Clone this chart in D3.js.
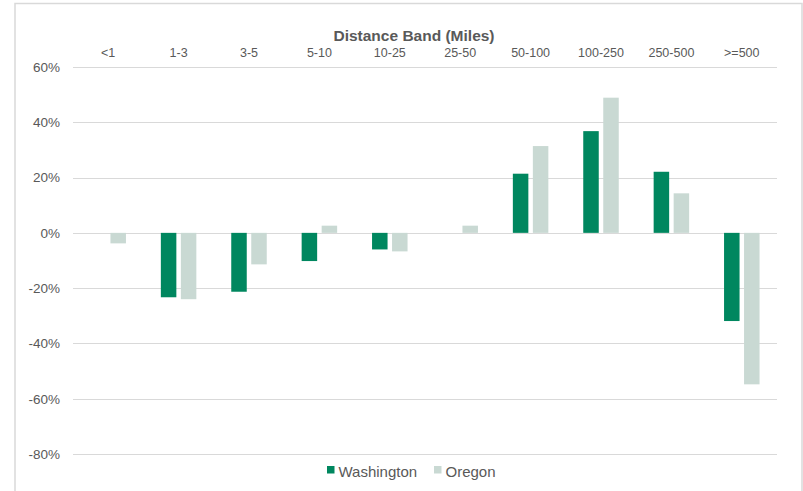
<!DOCTYPE html>
<html>
<head>
<meta charset="utf-8">
<script src="https://cdn.jsdelivr.net/npm/d3@7"></script>
<style>
  html, body { margin: 0; padding: 0; background: #ffffff; }
  svg { display: block; font-family: "Liberation Sans", Arial, sans-serif; }
</style>
</head>
<body>
<svg id="chart" width="803" height="491"></svg>
<script>
// Distance bands and percentage change per state
const bands = ["<1", "1-3", "3-5", "5-10", "10-25", "25-50", "50-100", "100-250", "250-500", ">=500"];
const washington = [0, -23.3, -21.3, -10.2, -6.0, 0, 21.4, 36.8, 22.1, -31.9];
const oregon = [-3.8, -24.0, -11.4, 2.6, -6.7, 2.6, 31.4, 48.9, 14.3, -54.8];
const seriesNames = ["Washington", "Oregon"];
const seriesColors = ["#00875f", "#c9d9d3"];
const yTicks = [60, 40, 20, 0, -20, -40, -60, -80];

const svg = d3.select("#chart");
const W = 803, H = 491;
const plot = { left: 73, right: 777, top: 67, bottom: 454 };

// outer frame
svg.append("rect")
  .attr("x", 15).attr("y", 3.5)
  .attr("width", 787).attr("height", H + 10)
  .attr("fill", "#ffffff")
  .attr("stroke", "#d9d9d9").attr("stroke-width", 1.5);

const x = d3.scaleBand().domain(bands).range([plot.left, plot.right]).paddingInner(0).paddingOuter(0);
const y = d3.scaleLinear().domain([-80, 60]).range([plot.bottom, plot.top]);

// horizontal gridlines
svg.append("g")
  .selectAll("line")
  .data(yTicks)
  .join("line")
  .attr("x1", plot.left).attr("x2", plot.right)
  .attr("y1", d => Math.round(y(d)) + 0.5).attr("y2", d => Math.round(y(d)) + 0.5)
  .attr("stroke", "#d9d9d9").attr("stroke-width", 1);

// y-axis labels
const yAxis = d3.axisLeft(y).tickValues(yTicks).tickFormat(d => d + "%").tickSize(0).tickPadding(0);
const gy = svg.append("g").attr("transform", `translate(60,0)`).call(yAxis);
gy.select(".domain").remove();
gy.selectAll("text")
  .attr("fill", "#595959")
  .style("font-size", "13.5px")
  .style("font-family", "'Liberation Sans', Arial, sans-serif");

// category labels along the top
const xAxis = d3.axisTop(x).tickSize(0).tickPadding(0);
const gx = svg.append("g").attr("transform", `translate(0,56.5)`).call(xAxis);
gx.select(".domain").remove();
gx.selectAll("text")
  .attr("dy", 0)
  .attr("fill", "#595959")
  .style("font-size", "12.5px")
  .style("font-family", "'Liberation Sans', Arial, sans-serif");

// axis title
svg.append("text")
  .attr("x", 414).attr("y", 41)
  .attr("text-anchor", "middle")
  .attr("fill", "#595959")
  .style("font-size", "15.5px")
  .style("font-weight", "bold")
  .text("Distance Band (Miles)");

// bars
const barW = 15.5, gap = 4.5;
const series = [washington, oregon];
series.forEach((vals, si) => {
  const offset = si === 0 ? -(gap / 2 + barW) : gap / 2;
  svg.append("g")
    .selectAll("rect")
    .data(bands.map((b, i) => ({ band: b, v: vals[i] })).filter(d => d.v !== 0))
    .join("rect")
    .attr("x", d => x(d.band) + x.bandwidth() / 2 + offset)
    .attr("width", barW)
    .attr("y", d => Math.min(y(d.v), y(0)))
    .attr("height", d => Math.abs(y(d.v) - y(0)))
    .attr("fill", seriesColors[si]);
});

// legend
const legend = svg.append("g").attr("transform", "translate(327,473)");
const legendItems = [{ name: seriesNames[0], x: 0 }, { name: seriesNames[1], x: 107 }];
legendItems.forEach((it, i) => {
  legend.append("rect")
    .attr("x", it.x).attr("y", -7)
    .attr("width", 7.5).attr("height", 7.5)
    .attr("fill", seriesColors[i]);
  legend.append("text")
    .attr("x", it.x + 11.5).attr("y", 0.5)
    .attr("dominant-baseline", "middle")
    .attr("fill", "#595959")
    .style("font-size", "15px")
    .text(it.name);
});
</script>
</body>
</html>
